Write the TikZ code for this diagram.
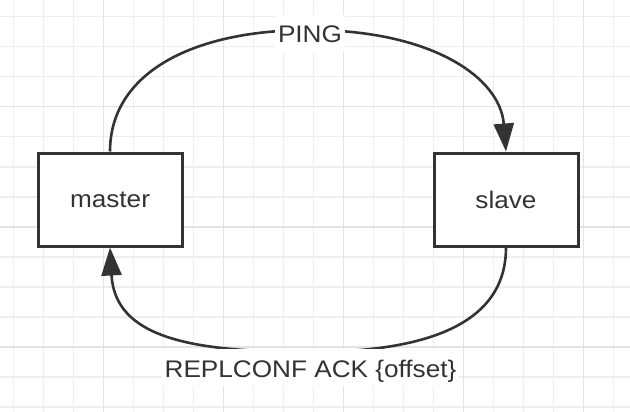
\documentclass[tikz,border=0pt]{standalone}
\usepackage{fontspec}
\setmainfont[FakeStretch=1.09]{Liberation Sans}
\usetikzlibrary{arrows.meta}
\definecolor{ink}{HTML}{333333}
\definecolor{gridminor}{HTML}{EEEEEE}
\definecolor{gridmajor}{HTML}{E3E3E3}
\tikzset{
  box/.style={draw=ink, line width=3pt, fill=white, minimum width=144pt, minimum height=93pt,
    inner sep=0pt, font=\fontsize{24}{28}\selectfont, text=ink},
  conn/.style={draw=ink, line width=2.6pt, -{Triangle[length=28pt,width=20pt]}},
  lbl/.style={fill=white, text=ink, inner xsep=3pt, inner ysep=3pt, text height=25pt, text depth=6pt,
    font=\fontsize{24}{28}\selectfont, anchor=base},
  minorgrid/.style={draw=gridminor, line width=1.6pt},
  majorgrid/.style={draw=gridmajor, line width=1.6pt}
}
\begin{document}
\begin{tikzpicture}[x=1pt,y=-1pt]
\useasboundingbox (0,0) rectangle (630,412);
\fill[white] (0,0) rectangle (630,412);
% grid
\foreach \i in {0,...,20} {
  \pgfmathsetmacro{\gx}{13.3+30*\i}
  \draw[minorgrid] (\gx,0) -- (\gx,412);
}
\foreach \i in {0,...,13} {
  \pgfmathsetmacro{\gy}{16.7+30*\i}
  \draw[minorgrid] (0,\gy) -- (630,\gy);
}
\foreach \gx in {103.3,223.3,343.3,463.3,583.3} {
  \draw[majorgrid] (\gx,0) -- (\gx,412);
}
\foreach \gy in {106.7,226.7,346.7} {
  \draw[majorgrid] (0,\gy) -- (630,\gy);
}
% nodes
\node[box] (master) at (110,199.5) {master};
\node[box] (slave) at (506,199.5) {slave};
\coordinate (ptop) at (310,30);
\coordinate (pbot) at (310,352);
% connectors
\draw[conn] (master.north) .. controls +(0,-77) and +(-120,0) .. (ptop)
  .. controls +(120,0) and +(-6,-75) .. (slave.north);
\draw[conn] (slave.south) .. controls +(0,75) and +(120,0) .. (pbot)
  .. controls +(-120,0) and +(5,90) .. (master.south);
% labels
\node[lbl] (pinglbl) at (310,43) {PING};
\node[lbl] (acklbl) at (310.5,377) {REPLCONF ACK \{offset\}};
\end{tikzpicture}
\end{document}
